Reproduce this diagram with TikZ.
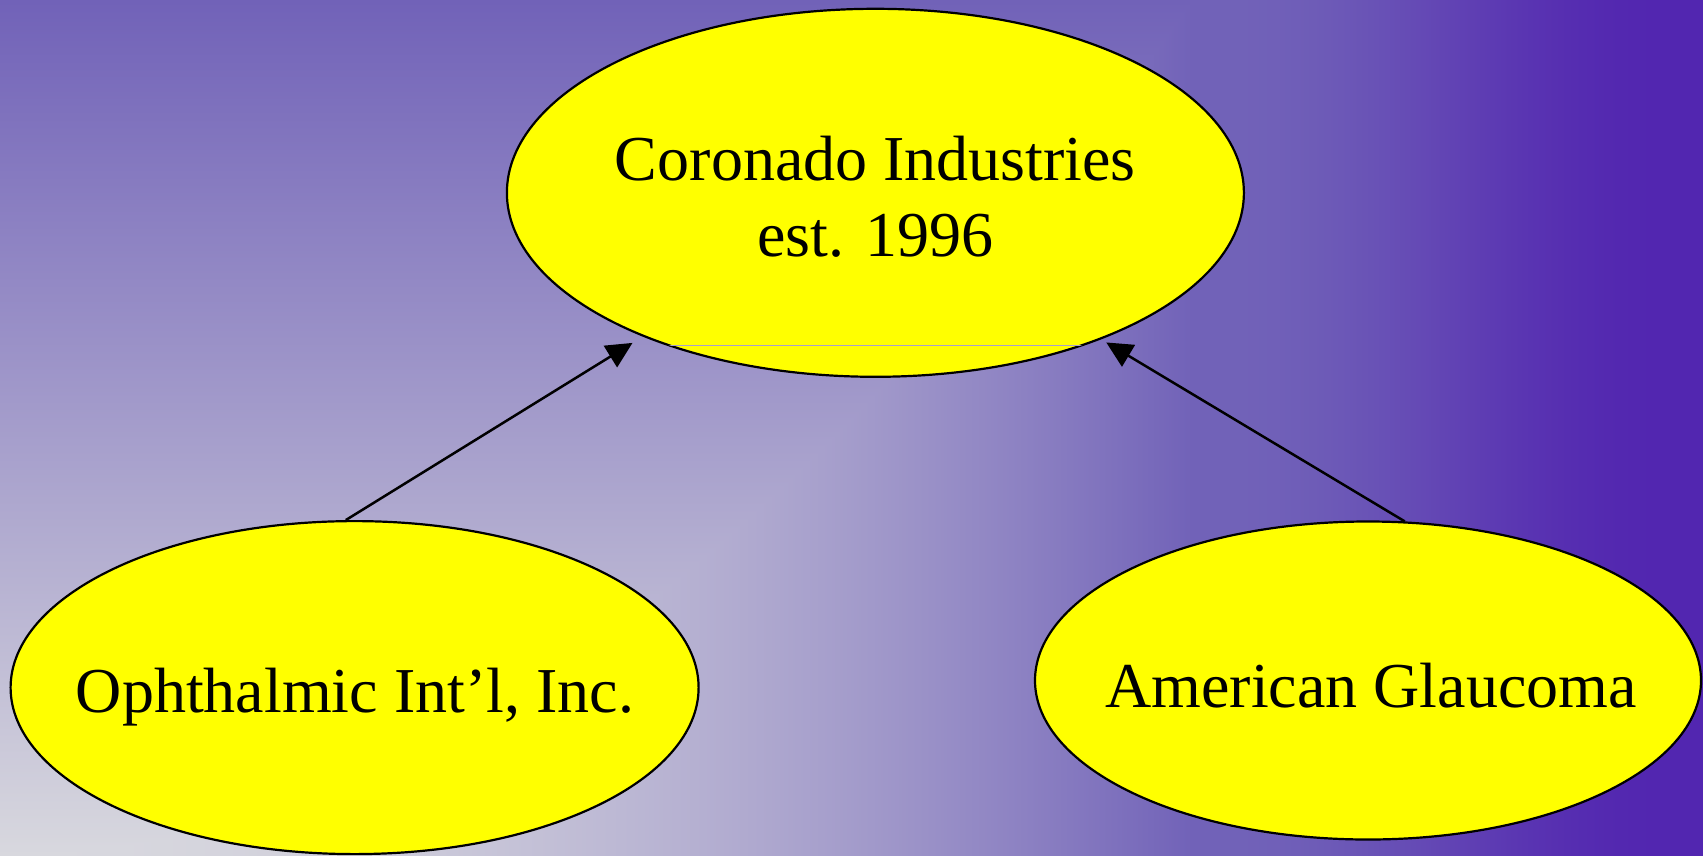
\documentclass[tikz,border=0pt]{standalone}
\usepackage{fontspec}
\setmainfont{Liberation Serif}
\usetikzlibrary{shapes.geometric,arrows.meta}

% Backdrop: light corner at the bottom left, lavender towards the top,
% deep violet band along the right edge.
\pgfdeclarefunctionalshading{backdrop}{\pgfpoint{0bp}{0bp}}{\pgfpoint{1703bp}{855bp}}{}{
  855 div exch 1703 div exch
  1 index 0.7 div dup mul
  2 copy lt {exch} if pop
  dup 1 gt {pop 1} if
  exch 0.72 sub 0.26 div
  dup 0 lt {pop 0} if dup 1 gt {pop 1} if
  dup dup mul exch 2 mul 3 exch sub mul
  1 index -0.404 mul 0.847 add 1 index 1 exch sub mul 1 index 0.322 mul add
  3 1 roll
  1 index -0.463 mul 0.847 add 1 index 1 exch sub mul 1 index 0.149 mul add
  3 1 roll
  1 index -0.149 mul 0.871 add 1 index 1 exch sub mul 1 index 0.690 mul add
  3 1 roll pop pop
}

\definecolor{chordgrey}{RGB}{168,160,204}
\definecolor{bloby}{RGB}{255,255,0}

\tikzset{
  blob/.style={ellipse, draw=black, line width=2.2bp, fill=bloby, inner sep=0pt},
  lbl/.style={inner sep=0pt, align=center, font=\fontsize{64bp}{76bp}\selectfont},
  link/.style={draw=black, line width=2.5bp,
    -{Triangle[length=26bp,width=25bp]}},
}

\begin{document}
\begin{tikzpicture}[x=1bp, y=-1bp]
  \useasboundingbox (0,0) rectangle (1703,855);
  \node[inner sep=0pt, outer sep=0pt, anchor=south west] (bg) at (0,855) {\pgfuseshading{backdrop}};

  % company ellipses
  \node[blob, minimum width=737bp, minimum height=368bp] (co) at (875.4,192.8) {};
  \node[blob, minimum width=688bp, minimum height=333bp] (oi) at (354.6,687.6) {};
  \node[blob, minimum width=666bp, minimum height=318bp] (ag) at (1368,680.5) {};

  % thin seam across the lower part of the top ellipse
  \begin{scope}
    \clip (875.4,192.8) ellipse [x radius=368, y radius=184];
    \draw[chordgrey, line width=1bp] (480,345.5) -- (1270,345.5);
  \end{scope}

  % labels
  \node[lbl, anchor=base] (cot) at (875.4,256.3) {Coronado Industries\\est. 1996};
  \node[lbl, anchor=base] (oit) at (355,712.5) {Ophthalmic Int’l, Inc.};
  \node[lbl, anchor=base] (agt) at (1371,707) {American Glaucoma};

  % ownership links
  \draw[link, shorten >=12bp] (oi.93) -- (co);
  \draw[link, shorten >=6bp] (ag.77) -- (co.-33);
\end{tikzpicture}
\end{document}
